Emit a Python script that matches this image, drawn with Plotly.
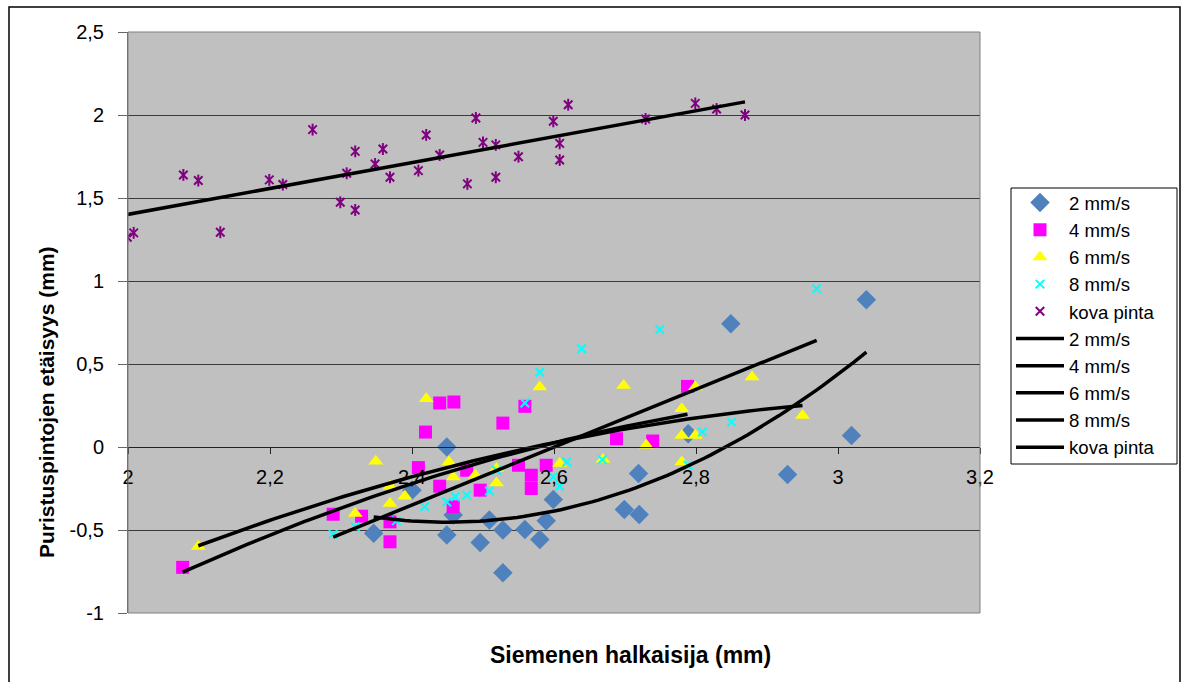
import numpy as np
import plotly.graph_objects as go

# ---- data ----
x_2mm = [2.346, 2.400, 2.449, 2.449, 2.458, 2.496, 2.509, 2.528, 2.528, 2.559, 2.580,
         2.589, 2.599, 2.699, 2.719, 2.720, 2.789, 2.849, 2.929, 3.019, 3.040]
y_2mm = [-0.52, -0.26, 0.00, -0.53, -0.41, -0.575, -0.44, -0.50, -0.758, -0.497, -0.557,
         -0.445, -0.317, -0.377, -0.16, -0.407, 0.08, 0.742, -0.166, 0.070, 0.887]

x_4mm = [2.077, 2.289, 2.329, 2.369, 2.369, 2.409, 2.419, 2.439, 2.459, 2.439, 2.458,
         2.477, 2.496, 2.528, 2.559, 2.550, 2.568, 2.568, 2.589, 2.688, 2.739, 2.788]
y_4mm = [-0.725, -0.405, -0.417, -0.571, -0.451, -0.124, 0.09, 0.265, 0.271, -0.236, -0.36,
         -0.14, -0.26, 0.144, 0.245, -0.11, -0.17, -0.25, -0.11, 0.05, 0.036, 0.365]

x_6mm = [2.099, 2.320, 2.349, 2.369, 2.369, 2.390, 2.420, 2.452, 2.458, 2.489, 2.519, 2.519,
         2.580, 2.608, 2.669, 2.698, 2.730, 2.780, 2.780, 2.780, 2.799, 2.799, 2.879, 2.950]
y_6mm = [-0.60, -0.40, -0.086, -0.236, -0.34, -0.297, 0.291, -0.09, -0.18, -0.17, -0.13, -0.217,
         0.361, -0.10, -0.076, 0.371, 0.01, 0.231, 0.07, -0.09, 0.07, 0.361, 0.421, 0.19]

x_8mm = [2.289, 2.320, 2.378, 2.418, 2.449, 2.461, 2.477, 2.509, 2.519, 2.559, 2.580,
         2.599, 2.608, 2.618, 2.639, 2.668, 2.749, 2.789, 2.809, 2.850, 2.970]
y_8mm = [-0.525, -0.48, -0.445, -0.36, -0.331, -0.30, -0.29, -0.265, -0.14, 0.265, 0.45,
         -0.18, -0.236, -0.09, 0.592, -0.076, 0.708, -0.11, 0.09, 0.150, 0.953]

x_kova = [1.999, 2.008, 2.078, 2.099, 2.130, 2.199, 2.218, 2.260, 2.299, 2.308, 2.320,
          2.320, 2.348, 2.359, 2.369, 2.409, 2.420, 2.439, 2.478, 2.490, 2.500, 2.518,
          2.518, 2.550, 2.599, 2.620, 2.608, 2.608, 2.729, 2.799, 2.829, 2.869]
y_kova = [1.264, 1.290, 1.639, 1.605, 1.294, 1.609, 1.581, 1.912, 1.474, 1.649, 1.781,
          1.428, 1.705, 1.795, 1.625, 1.665, 1.880, 1.759, 1.585, 1.982, 1.835, 1.625,
          1.820, 1.749, 1.962, 2.062, 1.829, 1.729, 1.976, 2.070, 2.036, 2.000]

series_names = ["2 mm/s", "4 mm/s", "6 mm/s", "8 mm/s", "kova pinta"]
trend_degree = [2, 2, 2, 1, 1]

x_tick_vals = [2.0, 2.2, 2.4, 2.6, 2.8, 3.0, 3.2]
x_tick_text = ["2", "2,2", "2,4", "2,6", "2,8", "3", "3,2"]
y_tick_vals = [-1.0, -0.5, 0.0, 0.5, 1.0, 1.5, 2.0, 2.5]
y_tick_text = ["-1", "-0,5", "0", "0,5", "1", "1,5", "2", "2,5"]

# ---- figure ----
FONT = "Liberation Sans, Arial, sans-serif"
fig = go.Figure()

xs = [x_2mm, x_4mm, x_6mm, x_8mm, x_kova]
ys = [y_2mm, y_4mm, y_6mm, y_8mm, y_kova]

marker_styles = [
    dict(symbol="diamond", size=15, color="#4F81BD"),
    dict(symbol="square", size=13, color="#FF00FF"),
    dict(symbol="triangle-up", size=13, color="#FFFF00"),
    dict(symbol="x-thin-open", size=8.5, color="#00FFFF", line=dict(color="#00FFFF", width=2)),
    dict(symbol="x-thin-open", size=8.5, color="#800080", line=dict(color="#800080", width=2)),
]

for name, x, y, m in zip(series_names, xs, ys, marker_styles):
    fig.add_trace(go.Scatter(x=x, y=y, mode="markers", name=name, marker=m,
                             legendgroup="m" + name))
    if name == "kova pinta":
        fig.add_trace(go.Scatter(x=x, y=y, mode="markers", name=name, showlegend=False,
                                 hoverinfo="skip", legendgroup="m" + name,
                                 marker=dict(symbol="line-ns-open", size=8.5, color="#800080",
                                             line=dict(color="#800080", width=2))))

# trendlines (least-squares fits of each series, like Excel trendlines)
for name, x, y, deg in zip(series_names, xs, ys, trend_degree):
    coef = np.polyfit(x, y, deg)
    xt = np.linspace(min(x), max(x), 80)
    yt = np.polyval(coef, xt)
    fig.add_trace(go.Scatter(x=xt, y=yt, mode="lines", name=name,
                             line=dict(color="black", width=3.5)))

# plot-area geometry in page pixels
L, R, T, B = 128, 980, 32, 613
W, H = 1186, 682
pw, ph = R - L, B - T

def px(xpix):
    return (xpix - L) / pw

def py(ypix):
    return (B - ypix) / ph

fig.update_layout(
    width=W, height=H,
    margin=dict(l=L, r=W - R, t=T, b=H - B, pad=0),
    paper_bgcolor="white",
    plot_bgcolor="#C0C0C0",
    font=dict(family=FONT, size=19, color="black"),
    showlegend=True,
    legend=dict(x=px(1011), y=py(184), xanchor="left", yanchor="top",
                bgcolor="rgba(0,0,0,0)", borderwidth=0,
                font=dict(family=FONT, size=18.6, color="black"),
                itemwidth=48, tracegroupgap=0, traceorder="normal"),
    xaxis=dict(range=[2, 3.2], tickvals=x_tick_vals, ticktext=x_tick_text,
               anchor="free", position=(0 - (-1)) / 3.5,
               showgrid=False, zeroline=False, showline=True, linecolor="#222",
               linewidth=1, ticks="outside", ticklen=6, tickcolor="#222",
               ticklabelstandoff=6, tickfont=dict(size=20)),
    yaxis=dict(range=[-1, 2.5], tickvals=y_tick_vals, ticktext=y_tick_text,
               showgrid=True, gridcolor="#3a3a3a", gridwidth=1, zeroline=False,
               showline=True, linecolor="#666", linewidth=1,
               ticks="outside", ticklen=9, tickcolor="#666",
               ticklabelstandoff=10, tickfont=dict(size=20)),
)

# plot-area border, legend box and outer chart frame
fig.add_shape(type="rect", xref="x domain", yref="y domain", x0=0, x1=1, y0=0, y1=1,
              line=dict(color="#808080", width=1), fillcolor="rgba(0,0,0,0)", layer="above")
fig.add_shape(type="rect", xref="paper", yref="paper",
              x0=px(1011), x1=px(1177), y0=py(464), y1=py(188),
              line=dict(color="black", width=1), fillcolor="white", layer="below")
fig.add_shape(type="rect", xref="paper", yref="paper",
              x0=px(9), x1=px(1180), y0=py(700), y1=py(7),
              line=dict(color="black", width=1.5), fillcolor="rgba(0,0,0,0)", layer="above")

# axis titles
fig.add_annotation(text="<b>Siemenen halkaisija (mm)</b>", xref="paper", yref="paper",
                   x=px(630), y=py(655), xanchor="center", yanchor="middle",
                   showarrow=False, font=dict(family=FONT, size=23, color="black"))
fig.add_annotation(text="<b>Puristuspintojen etäisyys (mm)</b>", xref="paper", yref="paper",
                   x=px(46), y=py(402), xanchor="center", yanchor="middle", textangle=-90,
                   showarrow=False, font=dict(family=FONT, size=21, color="black"))

fig.write_html("out.html", config={"displayModeBar": False},
               post_script="document.body.style.margin='0px';document.body.style.overflow='hidden';")
